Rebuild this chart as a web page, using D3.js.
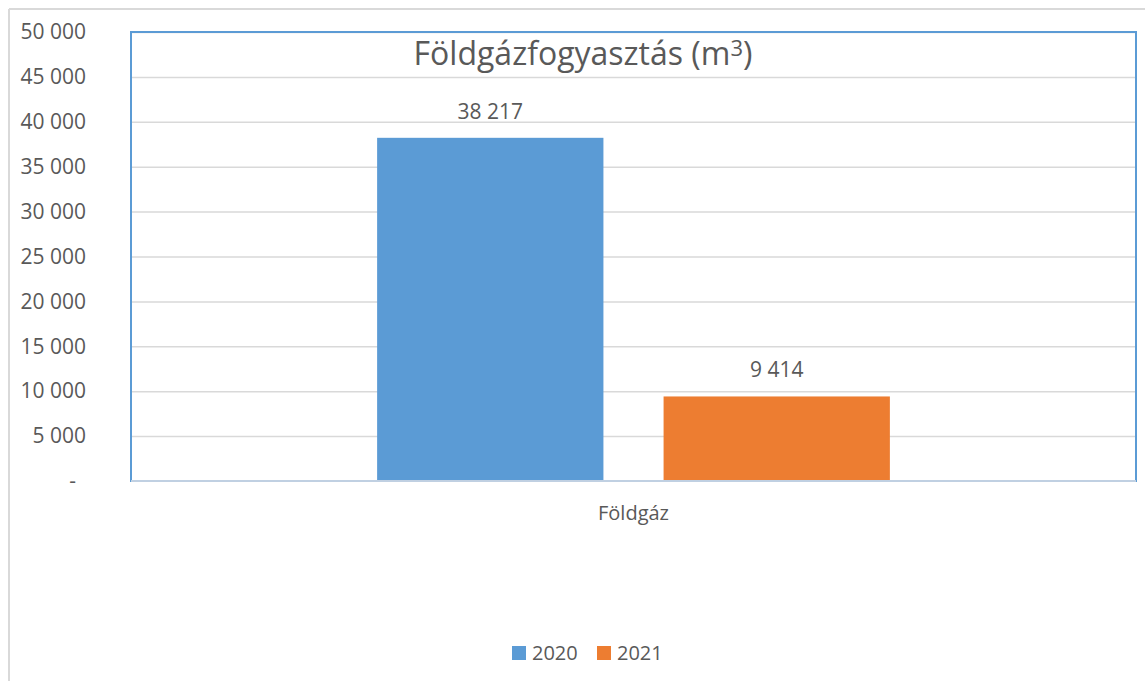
<!DOCTYPE html>
<html><head><meta charset="utf-8">
<script src="https://cdn.jsdelivr.net/npm/d3@7"></script>
<style>body{margin:0;background:#fff}svg{display:block}text{font-family:"Open Sans",sans-serif;fill:#595959}</style>
</head><body>
<svg id="c" width="1145" height="681"></svg>
<script>
const categories = ["Földgáz"];
const seriesNames = ["2020", "2021"];
const values2020 = [38217];
const values2021 = [9414];
const yTicks = [0, 5000, 10000, 15000, 20000, 25000, 30000, 35000, 40000, 45000, 50000];
const colors = ["#5b9bd5", "#ed7d31"];

const svg = d3.select("#c");
const m = {l: 131, t: 32, r: 1136, b: 481};

// outer chart border (left and top visible)
svg.append("line").attr("x1", 9).attr("x2", 9).attr("y1", 9).attr("y2", 681).attr("stroke", "#d9d9d9").attr("stroke-width", 2);
svg.append("line").attr("x1", 9).attr("x2", 1145).attr("y1", 9).attr("y2", 9).attr("stroke", "#d9d9d9").attr("stroke-width", 2);

const y = d3.scaleLinear().domain([0, 50000]).range([m.b, m.t]);
const x0 = d3.scaleBand().domain(categories).range([m.l, m.r]).paddingInner(0).paddingOuter(0.48);
const x1 = d3.scaleBand().domain(seriesNames).range([0, x0.bandwidth()]).paddingInner(0.21);

const fmt = v => v === 0 ? "-" : d3.format(",")(v).replace(/,/g, " ");

// gridlines
const grid = d3.axisLeft(y).tickValues(yTicks.filter(v => v > 0)).tickSize(-(m.r - m.l)).tickFormat("");
const gg = svg.append("g").attr("transform", `translate(${m.l},0)`).call(grid);
gg.select(".domain").remove();
gg.selectAll("line").attr("stroke", "#d9d9d9").attr("stroke-width", 1.5);

// y labels
const ya = d3.axisLeft(y).tickValues(yTicks).tickSize(0).tickPadding(0).tickFormat(fmt);
const yg = svg.append("g").attr("transform", `translate(86,0)`).call(ya);
yg.select(".domain").remove();
yg.selectAll("text").attr("font-size", 21).style("fill", "#595959").attr("font-family", "Open Sans");
yg.selectAll(".tick").filter(d => d === 0).select("text").attr("x", -10);

// bars
const series = [values2020, values2021];
const g = svg.append("g");
categories.forEach((c, ci) => {
  seriesNames.forEach((s, si) => {
    const v = series[si][ci];
    g.append("rect")
      .attr("x", x0(c) + x1(s)).attr("width", x1.bandwidth())
      .attr("y", y(v)).attr("height", y(0) - y(v))
      .attr("fill", colors[si]);
    g.append("text")
      .attr("x", x0(c) + x1(s) + x1.bandwidth() / 2).attr("y", y(v) - 19)
      .attr("text-anchor", "middle").attr("font-size", 21)
      .text(fmt(v));
  });
});

// plot border
svg.append("rect").attr("x", m.l).attr("y", m.t).attr("width", m.r - m.l).attr("height", m.b - m.t)
  .attr("fill", "none").attr("stroke", "#5b9bd5").attr("stroke-width", 2);
svg.append("line").attr("x1", m.l).attr("x2", m.r).attr("y1", m.b).attr("y2", m.b).attr("stroke", "#c0d0e2").attr("stroke-width", 2);

// category label
const xa = d3.axisBottom(x0).tickSize(0).tickPadding(0);
const xg = svg.append("g").attr("transform", `translate(0,520)`).call(xa);
xg.select(".domain").remove();
xg.selectAll("text").attr("font-size", 20).attr("dy", 0).attr("y", 0).style("fill", "#595959").attr("font-family", "Open Sans");

// title
const t = svg.append("text").attr("x", 583).attr("y", 65).attr("text-anchor", "middle").attr("font-size", 32);
t.append("tspan").text("Földgázfogyasztás (m");
t.append("tspan").attr("font-size", 22).attr("dy", -9).text("3");
t.append("tspan").attr("dy", 9).text(")");

// legend
const lg = svg.append("g");
const legX = [512, 597];
seriesNames.forEach((s, i) => {
  lg.append("rect").attr("x", legX[i]).attr("y", 646).attr("width", 14).attr("height", 14).attr("fill", colors[i]);
  lg.append("text").attr("x", legX[i] + 20).attr("y", 660).attr("font-size", 20).text(s);
});
</script>
</body></html>
